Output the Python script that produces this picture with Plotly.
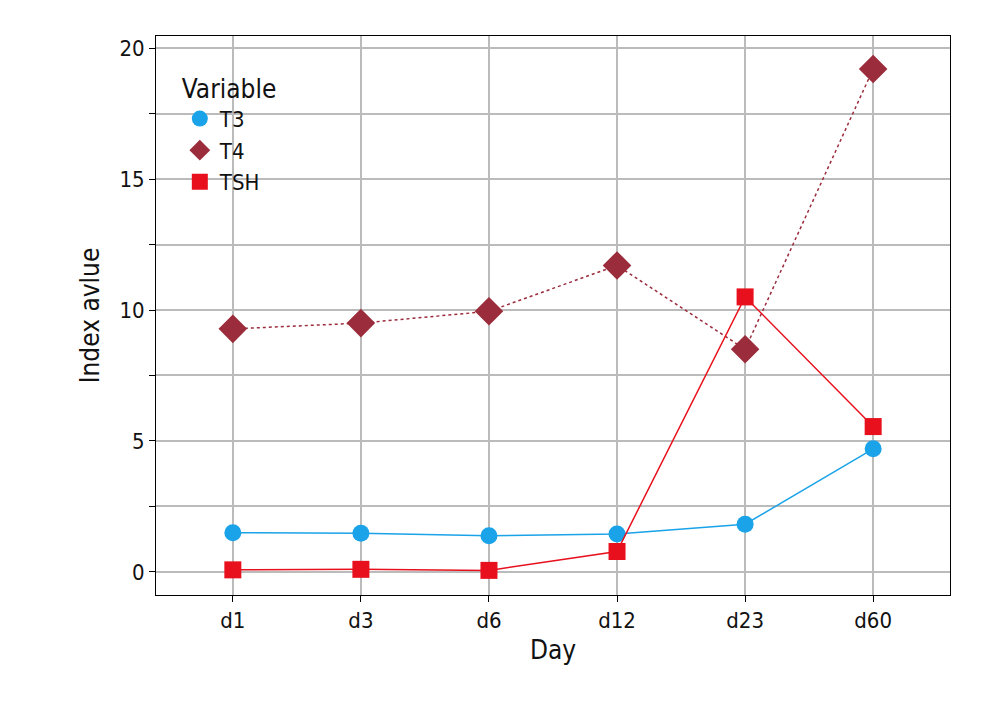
import plotly.graph_objects as go

days = ["d1", "d3", "d6", "d12", "d23", "d60"]
t3 = [1.5, 1.48, 1.38, 1.45, 1.82, 4.7]
t4 = [9.28, 9.5, 9.95, 11.7, 8.5, 19.2]
tsh = [0.08, 0.1, 0.06, 0.78, 10.5, 5.55]
yticks = [0, 2.5, 5, 7.5, 10, 12.5, 15, 17.5, 20]
ylabels = ["0", "", "5", "", "10", "", "15", "", "20"]

font = "DejaVu Sans Condensed, Liberation Sans Narrow, sans-serif"
series = [("T3", t3, "#1aa3e8", "circle", 17, "solid"),
          ("T4", t4, "#9b2c3c", "diamond", 22, "dot"),
          ("TSH", tsh, "#e8101c", "square", 17, "solid")]
fig = go.Figure()
for name, ys, c, sym, sz, dash in series:
    fig.add_trace(go.Scatter(x=days, y=ys, name=name, mode="lines+markers", showlegend=False,
        line=dict(color=c, width=1.5, dash=dash), marker=dict(symbol=sym, size=sz, color=c)))
for name, ys, c, sym, sz, dash in series:
    fig.add_trace(go.Scatter(x=[None], y=[None], name=name, mode="markers",
        marker=dict(symbol=sym, size=sz, color=c)))

fig.update_layout(
    width=1000, height=718, paper_bgcolor="white", plot_bgcolor="white",
    margin=dict(l=148, r=58, t=28, b=131),
    font=dict(family=font, size=22, color="#111"),
    legend=dict(title=dict(text="Variable"), x=0.03, y=0.95, xanchor="left", yanchor="top",
                bgcolor="rgba(255,255,255,0)", font=dict(size=22), tracegroupgap=0),
    xaxis=dict(title=dict(text="Day", standoff=8), range=[-0.6, 5.6], showgrid=True, gridcolor="#bbbbbb",
               gridwidth=1.5, showline=True, linecolor="black", mirror=True, ticks="outside",
               ticklen=6, tickcolor="black"),
    yaxis=dict(title=dict(text="Index avlue", standoff=12), range=[-0.88, 20.46], tickvals=yticks, ticktext=ylabels,
               showgrid=True, gridcolor="#bbbbbb", gridwidth=1.5, zeroline=False,
               showline=True, linecolor="black", mirror=True, ticks="outside", ticklen=6, tickcolor="black"),
)
fig.write_html("out.html")
